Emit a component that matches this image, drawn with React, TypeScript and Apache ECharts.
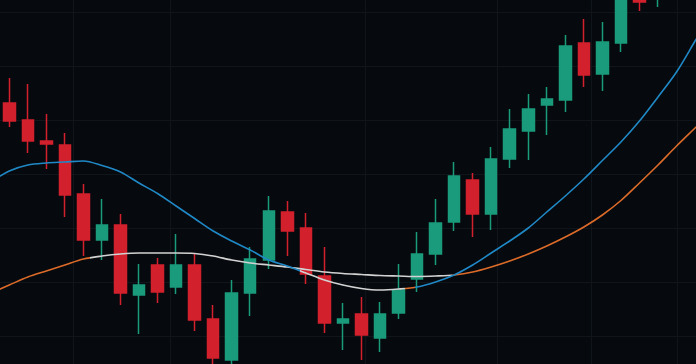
import React, { useEffect, useRef } from "react";
import * as echarts from "echarts";

// Candles, index 0..35 (left to right)
const opens = [143.15, 140.0, 136.11, 135.37, 126.3, 117.78, 120.56, 107.59, 113.15, 109.07, 113.15, 103.15, 95.56, 107.96, 114.07, 122.96, 120.0, 111.11, 102.41, 104.07, 99.63, 104.26, 110.56, 115.19, 121.11, 128.89, 122.59, 132.78, 137.96, 142.78, 143.7, 154.26, 148.52, 154.26, 164.44, 162.96];
const closes = [139.81, 136.11, 135.56, 126.11, 117.78, 120.56, 107.96, 109.44, 108.15, 113.15, 102.96, 95.93, 107.96, 114.26, 123.15, 119.44, 111.48, 102.41, 103.15, 100.19, 104.07, 108.52, 115.19, 120.93, 129.63, 122.59, 132.78, 138.33, 142.04, 143.89, 153.7, 148.33, 154.44, 163.33, 161.85, 167.78];
const lows = [138.7, 133.89, 130.93, 122.04, 114.81, 114.07, 105.74, 100.37, 106.11, 107.78, 100.93, 93.7, 94.07, 103.7, 112.41, 114.81, 109.63, 100.56, 97.41, 95.56, 97.04, 103.15, 108.15, 113.15, 119.44, 118.33, 119.63, 131.11, 132.59, 137.22, 141.48, 146.11, 145.37, 152.59, 160.19, 160.93];
const highs = [147.78, 146.67, 141.11, 137.59, 128.15, 125.37, 122.59, 113.33, 114.44, 118.89, 115.19, 105.74, 110.37, 116.48, 125.93, 125.0, 122.78, 116.48, 106.11, 107.22, 106.3, 113.33, 119.26, 125.37, 132.22, 130.19, 135.0, 142.04, 144.81, 146.11, 155.74, 158.7, 158.15, 165.56, 166.3, 169.63];

// Moving averages, index -1..38
const MA_START = -1;
const fastMA = [128.52, 130.56, 131.67, 132.04, 132.22, 132.41, 131.57, 130.37, 128.33, 126.39, 124.07, 121.76, 119.44, 117.59, 115.93, 114.07, 112.96, 111.67, 110.37, 109.44, 108.8, 108.52, 108.7, 109.07, 110.0, 111.3, 113.15, 115.37, 117.59, 120.0, 122.96, 125.93, 129.07, 132.5, 135.93, 139.81, 144.26, 148.89, 154.63, 160.37];
const slowMA = [107.96, 109.44, 110.93, 112.04, 113.15, 114.26, 114.81, 115.19, 115.37, 115.37, 115.37, 115.28, 114.81, 114.07, 113.52, 113.15, 112.78, 112.31, 111.85, 111.57, 111.39, 111.2, 111.11, 111.02, 111.11, 111.3, 111.85, 112.78, 113.89, 115.19, 116.67, 118.33, 120.19, 122.41, 125.09, 128.33, 131.67, 135.19, 138.52, 141.85];

// Grid positions: time (candle-index units) and price levels
const timeGridX = [3.44, 8.67, 19.19, 26.31, 31.38, 36.02];
const priceGridY = [100, 110, 120, 130, 140, 150, 160];

const UP = "#1a9b7b";
const DOWN = "#d2212c";
const BLUE = "#1f88c6";
const ORANGE = "#dc6a28";
const WHITE = "#d2d2d2";
const GRID = "#10151b";
const BG = "#06090d";

export default function App() {
  const ref = useRef<HTMLDivElement>(null);
  useEffect(() => {
    document.body.style.margin = "0";
    document.body.style.background = BG;
    const chart = echarts.init(ref.current!, null, { renderer: "svg" });
    const candleData = opens.map((o, i) => [i, o, closes[i], lows[i], highs[i]]);
    const fastData = fastMA.map((v, k) => [k + MA_START, v]);
    const slowData = slowMA.map((v, k) => [k + MA_START, v]);
    chart.setOption({
      animation: false,
      backgroundColor: BG,
      grid: { left: 0, right: 0, top: 0, bottom: 0, containLabel: false },
      xAxis: {
        type: "value",
        min: -0.5,
        max: 37.05,
        axisLine: { show: false },
        axisTick: { show: false },
        axisLabel: { show: false },
        splitLine: { show: false },
      },
      yAxis: {
        type: "value",
        min: 94.815,
        max: 162.222,
        axisLine: { show: false },
        axisTick: { show: false },
        axisLabel: { show: false },
        splitLine: { show: false },
      },
      visualMap: [
        {
          show: false,
          type: "piecewise",
          seriesIndex: 1,
          dimension: 0,
          pieces: [
            { lt: 15.7, color: BLUE },
            { gte: 15.7, lt: 21.35, color: WHITE },
            { gte: 21.35, lt: 21.9, color: ORANGE },
            { gte: 21.9, color: BLUE },
          ],
        },
        {
          show: false,
          type: "piecewise",
          seriesIndex: 2,
          dimension: 0,
          pieces: [
            { lt: 4.36, color: ORANGE },
            { gte: 4.36, lt: 23.9, color: WHITE },
            { gte: 23.9, color: ORANGE },
          ],
        },
      ],
      series: [
        {
          type: "candlestick",
          data: candleData,
          barWidth: 12,
          clip: true,
          itemStyle: {
            color: UP,
            color0: DOWN,
            borderColor: UP,
            borderColor0: DOWN,
            borderWidth: 1.5,
          },
          markLine: {
            silent: true,
            z: 1,
            symbol: ["none", "none"],
            label: { show: false },
            lineStyle: { color: GRID, width: 1, type: "solid" },
            data: [
              ...timeGridX.map((v) => ({ xAxis: v })),
              ...priceGridY.map((v) => ({ yAxis: v })),
            ],
          },
        },
        {
          type: "line",
          data: fastData,
          showSymbol: false,
          smooth: 0.3,
          z: 5,
          lineStyle: { width: 1.6 },
        },
        {
          type: "line",
          data: slowData,
          showSymbol: false,
          smooth: 0.3,
          z: 4,
          lineStyle: { width: 1.6 },
        },
      ],
    });
    return () => chart.dispose();
  }, []);
  return <div ref={ref} style={{ width: 696, height: 364 }} />;
}
